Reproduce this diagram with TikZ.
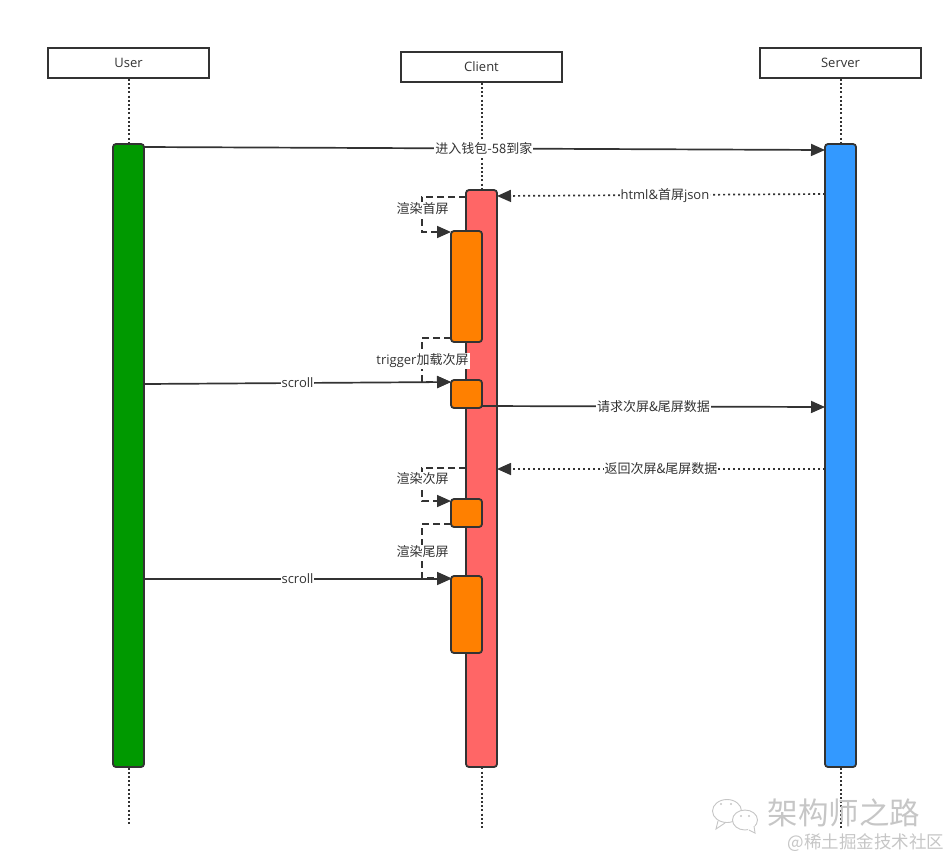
\documentclass[tikz,border=0pt]{standalone}
\usepackage{xcolor}
\usepackage{fontspec}
\setmainfont{Open Sans}
\newfontfamily\cjk{Noto Sans CJK SC}
\newcommand{\zh}[1]{{\cjk #1}}
\usetikzlibrary{arrows.meta, positioning, calc}
\definecolor{ink}{HTML}{333333}
\definecolor{userbarcol}{HTML}{009900}
\definecolor{clientbarcol}{HTML}{FF6666}
\definecolor{serverbarcol}{HTML}{3399FF}
\definecolor{blockcol}{HTML}{FF8000}
\definecolor{markcol}{HTML}{C6C6C6}
\tikzset{
  actor/.style={draw=ink, line width=1.7pt, fill=white, minimum width=161pt, minimum height=30pt, inner sep=0pt, font=\fontsize{13}{15}\selectfont, text=ink},
  bar/.style={draw=ink, line width=1.8pt, rounded corners=3pt, minimum width=31pt, inner sep=0pt, outer sep=0pt},
  block/.style={bar, fill=blockcol},
  lifeline/.style={ink, line width=2pt, dash pattern=on 2pt off 2.2pt},
  call/.style={ink, line width=1.7pt, -{Triangle[length=14pt,width=12pt]}},
  reply/.style={call, dash pattern=on 2pt off 3pt},
  self/.style={call, dash pattern=on 7pt off 4pt},
  msg/.style={fill=white, inner sep=1pt, font=\fontsize{13}{15}\selectfont, text=ink}
}
\begin{document}
\begin{tikzpicture}[x=1pt, y=-1pt, >=Latex]
  \useasboundingbox (0,0) rectangle (952,860);

  % Actors
  \node[actor] (user) at (128.5,63) {User};
  \node[actor] (client) at (481.5,67) {Client};
  \node[actor] (server) at (840.5,63) {Server};

  % Lifelines
  \coordinate (userend) at (128.5,824);
  \coordinate (clientend) at (481.5,828);
  \coordinate (serverend) at (840.5,828);
  \foreach \who in {user, client, server}
    \draw[lifeline] (\who.south) -- (\who end);

  % Activation bars
  \node[bar, fill=userbarcol, minimum height=623pt] (userbar) at (128.5,455.5) {};
  \node[bar, fill=clientbarcol, minimum height=577pt] (clientbar) at (481.5,478.5) {};
  \node[bar, fill=serverbarcol, minimum height=623pt] (serverbar) at (840.5,455.5) {};

  % Blocks on the client
  \node[block, minimum height=111pt] (first) at (466.5,286.5) {};
  \node[block, minimum height=28pt] (second) at (466.5,394) {};
  \node[block, minimum height=28pt] (third) at (466.5,513) {};
  \node[block, minimum height=77pt] (last) at (466.5,614.5) {};

  % Heights of the messages
  \coordinate (turn) at (422,0);
  \coordinate (enterA) at (0,147);
  \coordinate (enterB) at (0,150);
  \coordinate (htmlA) at (0,194);
  \coordinate (htmlB) at (0,196);
  \coordinate (askA) at (0,406);
  \coordinate (askB) at (0,407);
  \coordinate (backA) at (0,469);

  % Messages
  \draw[call] (userbar.east |- enterA) -- (serverbar.west |- enterB)
    node[msg, pos=0.499] (enterlabel) {\zh{进入钱包-58到家}};
  \draw[reply] (serverbar.west |- htmlA) -- (clientbar.east |- htmlB)
    node[msg, pos=0.488, yshift=-1pt] (htmllabel) {html\&\zh{首屏}json};
  \draw[call] (second.east |- askA) -- (serverbar.west |- askB)
    node[msg, midway] (asklabel) {\zh{请求次屏\&尾屏数据}};
  \draw[reply] (serverbar.west |- backA) -- (clientbar.east |- backA)
    node[msg, midway] (backlabel) {\zh{返回次屏\&尾屏数据}};
  \draw[call] (userbar.east |- 0,384) -- (second.west |- 0,382)
    node[msg, midway] (scrollone) {scroll};
  \draw[call] (userbar.east |- 0,579) -- (last.west |- 0,579)
    node[msg, midway] (scrolltwo) {scroll};

  % Self calls of the client
  \foreach \from/\fromy/\to/\toy/\laby/\txt in {
      clientbar/197/first/232/209/\zh{渲染首屏},
      first/338/second/382/361/trigger\zh{加载次屏},
      clientbar/468/third/501/479/\zh{渲染次屏},
      third/524/last/578/552/\zh{渲染尾屏}} {
    \draw[self] (\from.west |- 0,\fromy) -- (turn |- 0,\fromy) -- (turn |- 0,\toy) -- (\to.west |- 0,\toy);
    \node[msg] at (422.5,\laby) {\txt};
  }

  % Mark in the corner
  \begin{scope}[markcol, line width=0.9pt]
    \draw[fill=white] (727,811) ellipse (14.5pt and 11.5pt);
    \draw (718,821) -- (716,829) -- (725,823);
    \draw[fill=white] (745,820) ellipse (12.5pt and 10pt);
    \draw[fill=white, draw=white] (748,829) -- (755,833) -- (754,825);
    \draw (749,830) -- (755,833) -- (754,826);
    \foreach \dotx/\doty in {721/804, 731/804, 741/816, 749/816}
      \fill (\dotx,\doty) circle (1.2pt);
  \end{scope}
  \node[text=markcol, font=\fontsize{30.5}{32}\selectfont\cjk, inner sep=0pt] (marktitle) at (844,813) {架构师之路};
  \node[text=markcol, font=\fontsize{17.5}{19}\selectfont\cjk, inner sep=0pt] (marksub) at (866,843) {@稀土掘金技术社区};
\end{tikzpicture}
\end{document}
